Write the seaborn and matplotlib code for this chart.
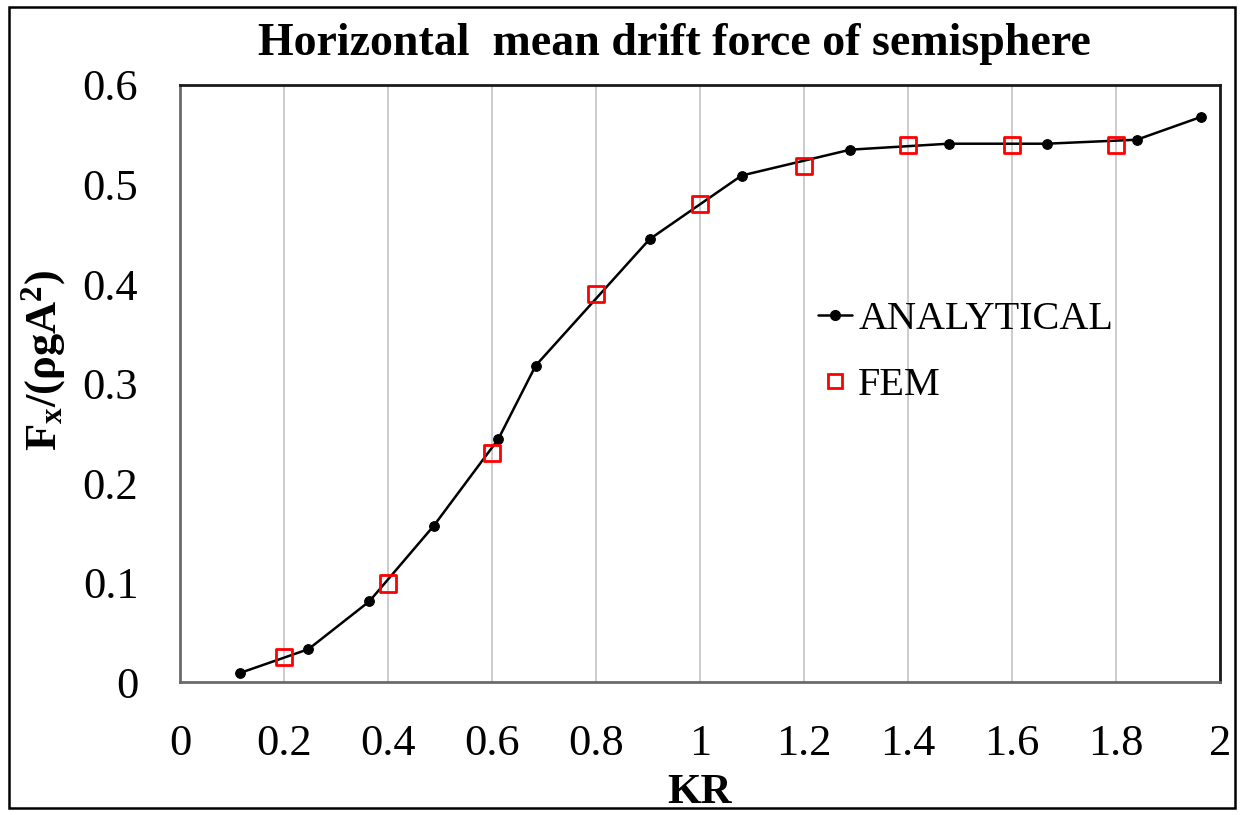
import matplotlib
matplotlib.use("Agg")
import matplotlib.pyplot as plt
import seaborn as sns
import pandas as pd
from matplotlib.lines import Line2D
from matplotlib.patches import Rectangle

# ---- data ----
kr_analytical = [0.115, 0.247, 0.364, 0.488, 0.612, 0.684, 0.903, 1.080, 1.289, 1.478, 1.667, 1.840, 1.964]
fx_analytical = [0.009, 0.033, 0.081, 0.157, 0.244, 0.318, 0.445, 0.509, 0.535, 0.541, 0.541, 0.545, 0.568]
kr_fem = [0.2, 0.4, 0.6, 0.8, 1.0, 1.2, 1.4, 1.6, 1.8]
fx_fem = [0.025, 0.099, 0.230, 0.390, 0.480, 0.519, 0.540, 0.540, 0.540]
x_ticks = [0, 0.2, 0.4, 0.6, 0.8, 1.0, 1.2, 1.4, 1.6, 1.8, 2.0]
x_tick_labels = ["0", "0.2", "0.4", "0.6", "0.8", "1", "1.2", "1.4", "1.6", "1.8", "2"]
y_ticks = [0, 0.1, 0.2, 0.3, 0.4, 0.5, 0.6]
y_tick_labels = ["0", "0.1", "0.2", "0.3", "0.4", "0.5", "0.6"]
title = "Horizontal  mean drift force of semisphere"
x_label = "KR"
y_label = r"$\mathrm{F_x/(ρgA^2)}$"
series_names = ["ANALYTICAL", "FEM"]

sns.set_theme(style="white")
plt.rcParams["font.family"] = ["Liberation Serif", "DejaVu Serif"]
plt.rcParams["text.color"] = "black"
plt.rcParams["axes.labelcolor"] = "black"
plt.rcParams["xtick.color"] = "black"
plt.rcParams["ytick.color"] = "black"
plt.rcParams["mathtext.fontset"] = "custom"
plt.rcParams["mathtext.rm"] = "Liberation Serif:bold"
plt.rcParams["mathtext.it"] = "Liberation Serif:bold"
plt.rcParams["mathtext.bf"] = "Liberation Serif:bold"

df_a = pd.DataFrame({"KR": kr_analytical, "Fx": fx_analytical})
df_f = pd.DataFrame({"KR": kr_fem, "Fx": fx_fem})

fig = plt.figure(figsize=(12.44, 8.15), dpi=100)
ax = fig.add_axes([180 / 1244, 1 - 682 / 815, 1040 / 1244, 597 / 815])

sns.lineplot(data=df_a, x="KR", y="Fx", ax=ax, color="black", linewidth=1.8,
             marker="o", markersize=7, markeredgecolor="black", zorder=3)
sns.scatterplot(data=df_f, x="KR", y="Fx", ax=ax, marker="s", s=135,
                facecolor="none", edgecolor="red", linewidth=2.0, zorder=4)

ax.set_xlim(0, 2)
ax.set_ylim(0, 0.6)
ax.set_xticks(x_ticks)
ax.set_xticklabels(x_tick_labels)
ax.set_yticks(y_ticks)
ax.set_yticklabels(y_tick_labels)
ax.tick_params(axis="both", labelsize=32, length=0, colors="black")
ax.tick_params(axis="x", pad=30)
ax.tick_params(axis="y", pad=30)

ax.grid(axis="x", color="#c8c8c8", linewidth=1.3)
ax.grid(axis="y", visible=False)
ax.set_axisbelow(True)

for side in ["left", "bottom"]:
    ax.spines[side].set_color("#6a6a6a")
    ax.spines[side].set_linewidth(2.0)
for side in ["top", "right"]:
    ax.spines[side].set_color("#1a1a1a")
    ax.spines[side].set_linewidth(2.0)

ax.set_xlabel(x_label, fontsize=31, fontweight="bold", color="black")
ax.set_ylabel(y_label, fontsize=32, color="black")
ax.yaxis.set_label_coords(-0.108, 0.538)
ax.xaxis.set_label_coords(0.5, -0.154)
fig.text(674 / 1244, 1 - 44 / 815, title, fontsize=33, fontweight="bold",
         ha="center", va="center", color="black")

handles = [
    Line2D([], [], color="black", linewidth=1.8, marker="o", markersize=7),
    Line2D([], [], color="red", linestyle="none", marker="s", markersize=10,
           markerfacecolor="none", markeredgewidth=2.0),
]
ax.legend(handles, series_names, loc="upper left", bbox_to_anchor=(0.598, 0.665),
          frameon=False, fontsize=29, handlelength=0.85, handletextpad=0.15,
          labelspacing=0.7, borderaxespad=0, labelcolor="black")

fig.patches.append(Rectangle((9 / 1244, 7 / 815), 1226 / 1244, 801 / 815,
                             transform=fig.transFigure, fill=False,
                             edgecolor="black", linewidth=1.8))

fig.savefig("out.png", dpi=100)
